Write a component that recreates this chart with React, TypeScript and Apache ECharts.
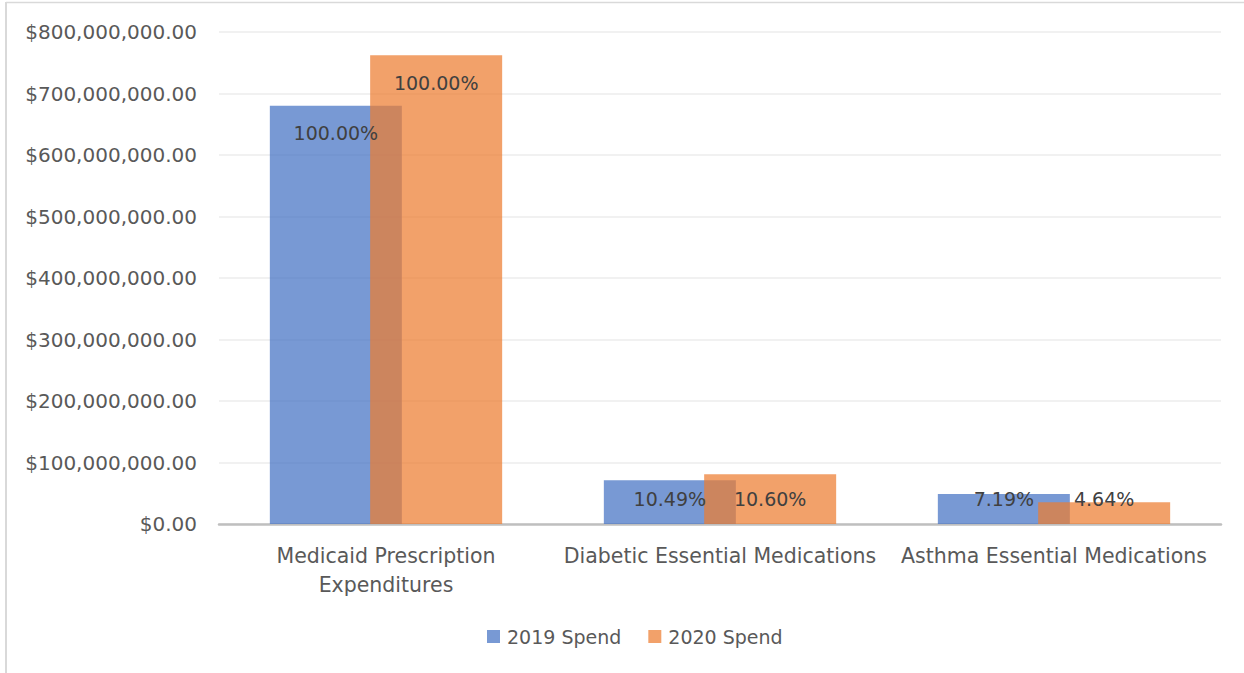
import React, { useEffect, useRef } from "react";
import * as echarts from "echarts";

const categories = [
  "Medicaid Prescription\nExpenditures",
  "Diabetic Essential Medications",
  "Asthma Essential Medications",
];
const seriesNames = ["2019 Spend", "2020 Spend"];
const spend2019 = [680000000, 71300000, 48900000];
const spend2020 = [762000000, 80800000, 35400000];
const share2019 = ["100.00%", "10.49%", "7.19%"];
const share2020 = ["100.00%", "10.60%", "4.64%"];

const FONT = "'DejaVu Sans', 'Open Sans', sans-serif";
const TEXT = "#595959";

function fmtMoney(v: number) {
  return "$" + v.toLocaleString("en-US") + ".00";
}

function buildData(values: number[], labels: string[]) {
  return values.map((v, i) => {
    const tall = v > 200000000;
    return {
      value: v,
      label: tall
        ? { position: "insideTop", distance: 18, formatter: labels[i] }
        : { position: "insideBottom", distance: 16, formatter: labels[i] },
    };
  });
}

export default function App() {
  const ref = useRef<HTMLDivElement>(null);
  useEffect(() => {
    document.body.style.margin = "0";
    const chart = echarts.init(ref.current!, undefined, { renderer: "svg" });
    const labelStyle = {
      show: true,
      color: "#404040",
      fontSize: 19,
      fontFamily: FONT,
    };
    chart.setOption({
      animation: false,
      backgroundColor: "#ffffff",
      graphic: [
        { type: "line", shape: { x1: 6, y1: 2, x2: 6, y2: 673 }, style: { stroke: "#d9d9d9", lineWidth: 2 } },
        { type: "line", shape: { x1: 6, y1: 2.5, x2: 1244, y2: 2.5 }, style: { stroke: "#d9d9d9", lineWidth: 1.5 } },
      ],
      grid: { left: 219, right: 23, top: 32, bottom: 149, containLabel: false },
      legend: {
        data: seriesNames,
        bottom: 22,
        left: 482,
        icon: "rect",
        itemWidth: 13,
        itemHeight: 13,
        itemGap: 27,
        textStyle: { color: TEXT, fontSize: 19, fontFamily: FONT, padding: [0, 0, 0, 2] },
      },
      xAxis: {
        type: "category",
        data: categories,
        axisLine: { lineStyle: { color: "#bfbfbf", width: 2.5 } },
        axisTick: { show: false },
        axisLabel: {
          color: TEXT,
          fontSize: 20.5,
          fontFamily: FONT,
          margin: 17,
          lineHeight: 29,
          interval: 0,
        },
      },
      yAxis: {
        type: "value",
        min: 0,
        max: 800000000,
        interval: 100000000,
        axisLine: { show: false },
        axisTick: { show: false },
        splitLine: { lineStyle: { color: "#ececec", width: 1.5 } },
        axisLabel: {
          color: TEXT,
          fontSize: 20,
          fontFamily: FONT,
          margin: 22,
          formatter: (v: number) => fmtMoney(v),
        },
      },
      series: [
        {
          name: seriesNames[0],
          type: "bar",
          data: buildData(spend2019, share2019),
          barWidth: 132,
          barGap: "-24%",
          itemStyle: { color: "rgba(68,114,196,0.72)" },
          label: labelStyle,
        },
        {
          name: seriesNames[1],
          type: "bar",
          data: buildData(spend2020, share2020),
          barWidth: 132,
          barGap: "-24%",
          itemStyle: { color: "rgba(237,125,49,0.72)" },
          label: labelStyle,
        },
      ],
    });
    return () => chart.dispose();
  }, []);
  return <div ref={ref} style={{ width: 1244, height: 673 }} />;
}
